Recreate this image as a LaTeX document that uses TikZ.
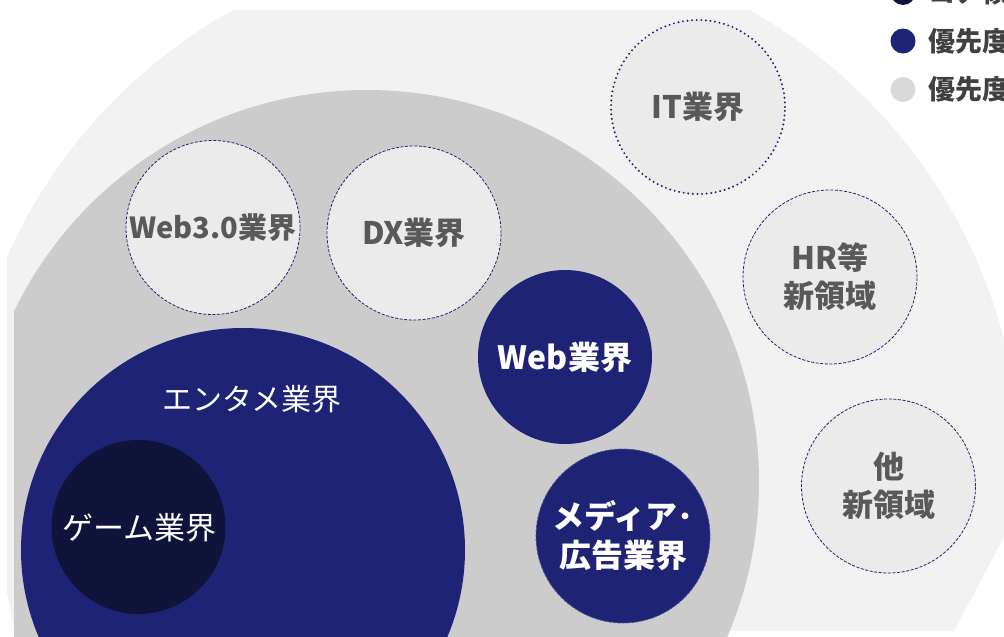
\documentclass[tikz,border=0pt]{standalone}
\usepackage{fontspec}
\setmainfont{Noto Sans CJK JP}
\definecolor{outergray}{HTML}{F2F2F2}
\definecolor{midgray}{HTML}{CCCCCC}
\definecolor{circfill}{HTML}{EBEBEB}
\definecolor{navy}{HTML}{1F2376}
\definecolor{darknavy}{HTML}{11143A}
\definecolor{txtgray}{HTML}{595959}
\definecolor{leggray}{HTML}{404040}
\definecolor{legdotgray}{HTML}{D9D9D9}
\begin{document}
\begin{tikzpicture}[x=1pt,y=-1pt,
  smallc/.style={circle, minimum size=174pt, inner sep=0pt, fill=circfill, text=txtgray, align=center,
    font=\bfseries\fontsize{31}{38}\selectfont},
  dashedborder/.style={draw=navy, line width=0.8pt, dash pattern=on 3pt off 1.6pt},
  dottedborder/.style={draw=navy, line width=2.2pt, line cap=round, dash pattern=on 0pt off 4.6pt},
  navyc/.style={circle, minimum size=174pt, inner sep=0pt, fill=navy, text=white, align=center,
    font=\bfseries\fontsize{32}{39}\selectfont},
  whitelabel/.style={text=white, align=center, inner sep=0pt, font=\fontsize{30}{38}\selectfont},
  legdot/.style={circle, minimum size=25pt, inner sep=0pt},
  legtext/.style={anchor=west, inner sep=0pt, text=leggray, font=\bfseries\fontsize{27}{30}\selectfont}]
\useasboundingbox (0,0) rectangle (1004,637);
\clip (0,0) rectangle (1004,637);
% outer light-gray region
\begin{scope}
  \clip (7,10) -- (1004,10) -- (1004,537) -- (954,631) -- (14,631) -- (7,593) -- cycle;
  \fill[outergray] (491,473) circle (530pt);
\end{scope}
% middle gray region
\begin{scope}
  \clip (14,0) rectangle (1004,637);
  \fill[midgray] (367,482) circle (392pt);
\end{scope}
% entertainment circle
\node[circle, fill=navy, minimum size=444pt, inner sep=0pt] (enta) at (243,550) {};
\node[whitelabel] (entatext) at (252,399) {エンタメ業界};
% game circle
\node[circle, fill=darknavy, minimum size=174pt, inner sep=0pt] (game) at (138.5,527) {};
\node[whitelabel, font=\fontsize{31}{38}\selectfont] (gametext) at (139.5,528) {ゲーム業界};
% priority circles
\node[navyc] (web) at (565,357) {Web業界};
\node[navyc, dashedborder, draw=navy!80!white] (media) at (623,536) {メディア･\\広告業界};
% other circles
\node[smallc, dashedborder, font=\bfseries\fontsize{29}{34}\selectfont] (web3) at (213,227.5) {Web3.0業界};
\node[smallc, dashedborder] (dx) at (414,233) {DX業界};
\node[smallc, dottedborder] (it) at (698,107) {IT業界};
\node[smallc, dashedborder] (hr) at (830,277) {HR等\\新領域};
\node[smallc, dashedborder] (other) at (888.5,486) {他\\新領域};
% legend
\node[legdot, fill=darknavy] (l1) at (903,-7.5) {};
\node[legdot, fill=navy] (l2) at (903,41) {};
\node[legdot, fill=legdotgray] (l3) at (903,89.5) {};
\node[legtext] (t1) at (928,-7.5) {コア領};
\node[legtext] (t2) at (928,41) {優先度};
\node[legtext] (t3) at (928,89.5) {優先度};
\end{tikzpicture}
\end{document}
